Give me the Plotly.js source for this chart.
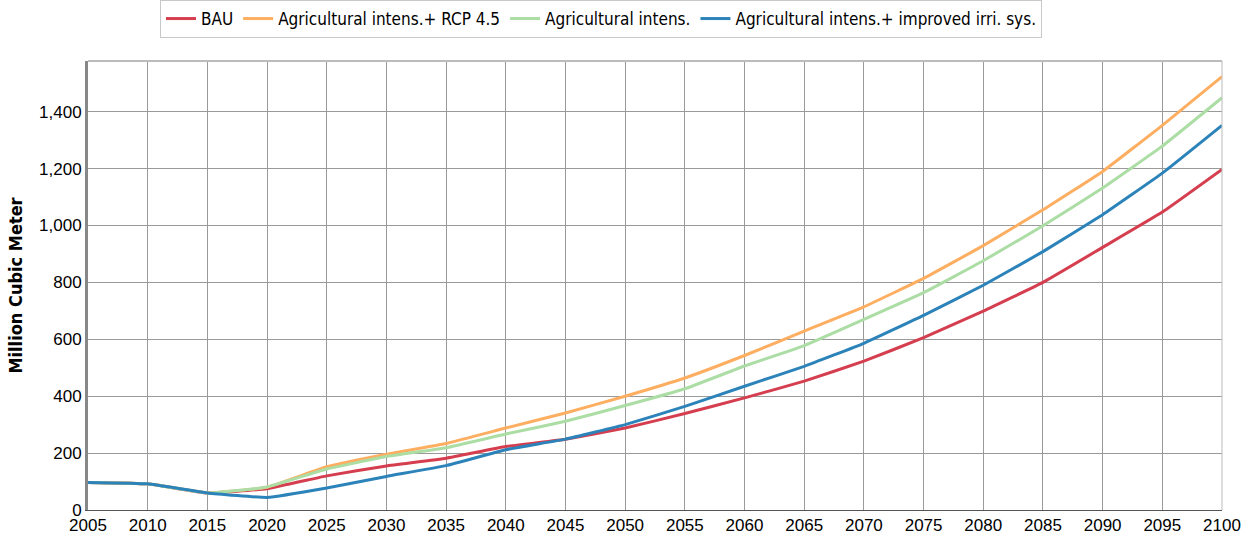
<!DOCTYPE html>
<html>
<head>
<meta charset="utf-8">
<script src="https://cdn.plot.ly/plotly-3.0.1.min.js"></script>
<style>html,body{margin:0;padding:0;background:#fff;}#chart{width:1247px;height:537px;}</style>
</head>
<body>
<div id="chart"></div>
<script>
const years = [2005,2010,2015,2020,2025,2030,2035,2040,2045,2050,2055,2060,2065,2070,2075,2080,2085,2090,2095,2100];
const seriesNames = ["BAU","Agricultural intens.+ RCP 4.5","Agricultural intens.","Agricultural intens.+ improved irri. sys."];
const bau   = [97,92,60,75,120,155,182,223,249,288,339,394,453,523,606,699,800,923,1047,1197];
const rcp45 = [97,92,60,80,152,196,234,288,341,400,464,543,629,714,814,929,1055,1190,1352,1523];
const intens= [97,92,60,81,144,188,219,267,312,367,426,506,578,670,764,876,999,1132,1279,1449];
const irri  = [97,92,60,44,77,118,156,212,249,300,364,435,505,586,684,790,908,1038,1184,1352];
const colors = ["#d53e4f","#fdae61","#abdda4","#2b83ba"];
const allSeries = [bau, rcp45, intens, irri];

const traces = allSeries.map((vals, i) => ({
  x: years, y: vals, type: 'scatter', mode: 'lines', name: seriesNames[i],
  line: {color: colors[i], width: 3, shape: 'spline', smoothing: 0.3}
}));

const layout = {
  width: 1247, height: 537,
  margin: {l: 88, r: 25, t: 61, b: 27},
  paper_bgcolor: '#fff', plot_bgcolor: '#fff',
  font: {family: '"Liberation Sans", Arial, sans-serif', color: '#000', size: 17},
  showlegend: true,
  legend: {
    orientation: 'h', xref: 'container', yref: 'container',
    x: 160/1247, xanchor: 'left', y: 1, yanchor: 'top',
    bordercolor: '#c8c8c8', borderwidth: 1, bgcolor: '#fff',
    font: {size: 17, family: '"DejaVu Sans Condensed", "DejaVu Sans", sans-serif'},
    itemwidth: 30, tracegroupgap: 0
  },
  xaxis: {
    range: [2005, 2100], dtick: 5, tick0: 2005, tickformat: 'd',
    showgrid: true, gridcolor: '#9a9a9a', gridwidth: 1,
    showline: true, linecolor: '#555', linewidth: 1, mirror: false,
    ticks: '', zeroline: false, tickfont: {size: 17}, automargin: false
  },
  yaxis: {
    range: [0, 1578], dtick: 200, tick0: 0, tickformat: ',d',
    showgrid: true, gridcolor: '#9a9a9a', gridwidth: 1,
    showline: true, linecolor: '#888', linewidth: 3,
    ticks: '', zeroline: false, tickfont: {size: 17}, automargin: false,
    title: {text: '<b>Million Cubic Meter</b>', font: {size: 18, family: '"DejaVu Sans Condensed", "DejaVu Sans", sans-serif'}, standoff: 12}
  },
  shapes: [
    {type: 'line', xref: 'paper', yref: 'paper', x0: 0, x1: 1, y0: 1, y1: 1, line: {color: '#bbb', width: 2}},
    {type: 'line', xref: 'paper', yref: 'paper', x0: 1, x1: 1, y0: 0, y1: 1, line: {color: '#bbb', width: 1}}
  ]
};

Plotly.newPlot('chart', traces, layout, {displayModeBar: false, staticPlot: true});
</script>
</body>
</html>
